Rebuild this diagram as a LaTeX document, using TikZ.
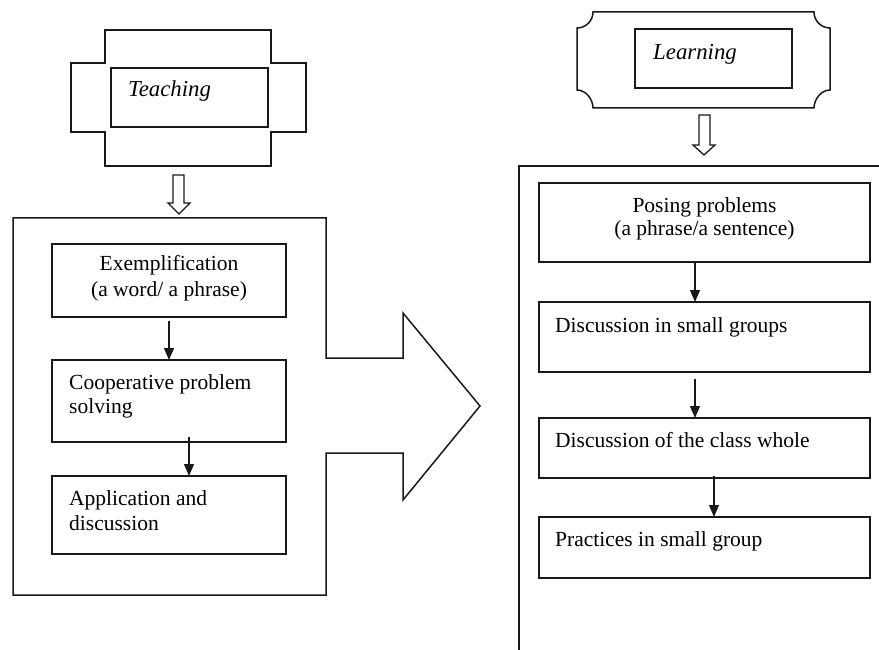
\documentclass[tikz,border=0pt]{standalone}
\usepackage{fontspec}
\setmainfont{Liberation Serif}
\usetikzlibrary{arrows.meta}
\begin{document}
\begin{tikzpicture}[x=1pt,y=-1pt,
  frame/.style={draw=black!90,line width=1.5pt,line join=miter},
  box/.style={draw=black!90,line width=1.5pt,inner sep=0pt,outer sep=0pt,rectangle},
  txt/.style={inner sep=0pt,font=\fontsize{21.5}{24}\selectfont},
  ttl/.style={inner sep=0pt,font=\fontsize{22.8}{26}\selectfont\itshape},
  arr/.style={draw=black!90,line width=1.1pt,-{Triangle[width=10pt,length=12pt]}},
  hollow/.style={draw=black!90,line width=1.3pt,fill=white,line join=miter}]
\useasboundingbox (0,0) rectangle (879,650);
\clip (0,0) rectangle (879,650);
\fill[white] (0,0) rectangle (879,650);

% Teaching plaque
\draw[frame] (105,30) -- (271,30) -- (271,63) -- (306,63) -- (306,132) -- (271,132)
  -- (271,166) -- (105,166) -- (105,132) -- (71,132) -- (71,63) -- (105,63) -- cycle;
\node[box,minimum width=157pt,minimum height=59pt] (tin) at (189.5,97.5) {};
\node[ttl,anchor=base west] (tteach) at (128,97) {Teaching};

% Learning plaque
\draw[frame] (593,12) -- (814,12)
  .. controls (814,20.8) and (821.2,28) .. (830,28)
  -- (830,90)
  .. controls (821.2,90) and (814,99.2) .. (814,108)
  -- (593,108)
  .. controls (593,99.2) and (585.8,90) .. (577,90)
  -- (577,28)
  .. controls (585.8,28) and (593,20.8) .. (593,12) -- cycle;
\node[box,minimum width=157pt,minimum height=59pt] (lin) at (713.5,58.5) {};
\node[ttl,anchor=base west] (tlearn) at (653,60) {Learning};

% hollow down arrows
\draw[hollow] (173,175) -- (184,175) -- (184,203) -- (190,203) -- (179,214)
  -- (168,203) -- (173,203) -- cycle;
\draw[hollow] (699,115) -- (710,115) -- (710,145) -- (715,145) -- (704,155)
  -- (693,145) -- (699,145) -- cycle;

% Left container with big arrow
\draw[frame] (13,218) -- (326,218) -- (326,358) -- (403,358) -- (403,313) -- (480,406)
  -- (403,500) -- (403,453) -- (326,453) -- (326,595) -- (13,595) -- cycle;

% Right container (open to right and bottom)
\draw[frame] (890,166) -- (519,166) -- (519,660);

% Left boxes
\node[box,minimum width=234pt,minimum height=73pt] (L1) at (169,280.5) {};
\node[box,minimum width=234pt,minimum height=82pt] (L2) at (169,401) {};
\node[box,minimum width=234pt,minimum height=78pt] (L3) at (169,515) {};
\node[txt,anchor=base] (l1a) at (169,270) {Exemplification};
\node[txt,anchor=base] (l1b) at (169,296) {(a word/ a phrase)};
\node[txt,anchor=base west] (l2a) at (69,389) {Cooperative problem};
\node[txt,anchor=base west] (l2b) at (69,413) {solving};
\node[txt,anchor=base west] (l3a) at (69,505) {Application and};
\node[txt,anchor=base west] (l3b) at (69,530) {discussion};

\draw[arr] ([yshift=-4pt]L1.south) -- (L2.north);
\draw[arr] ([xshift=20pt,yshift=5pt]L2.south) -- ([xshift=20pt]L3.north);

% Right boxes
\node[box,minimum width=331pt,minimum height=79pt] (R1) at (704.5,222.5) {};
\node[box,minimum width=331pt,minimum height=70pt] (R2) at (704.5,337) {};
\node[box,minimum width=331pt,minimum height=60pt] (R3) at (704.5,448) {};
\node[box,minimum width=331pt,minimum height=61pt] (R4) at (704.5,547.5) {};
\node[txt,anchor=base] (r1a) at (704.5,212) {Posing problems};
\node[txt,anchor=base] (r1b) at (704.5,236) {(a phrase/a sentence)};
\node[txt,anchor=base west] (r2a) at (555,332) {Discussion in small groups};
\node[txt,anchor=base west] (r3a) at (555,447) {Discussion of the class whole};
\node[txt,anchor=base west] (r4a) at (555,546) {Practices in small group};

\draw[arr] ([xshift=-9.5pt]R1.south) -- ([xshift=-9.5pt]R2.north);
\draw[arr] ([xshift=-9.5pt,yshift=-7pt]R2.south) -- ([xshift=-9.5pt]R3.north);
\draw[arr] ([xshift=9.5pt,yshift=2pt]R3.south) -- ([xshift=9.5pt]R4.north);
\end{tikzpicture}
\end{document}
